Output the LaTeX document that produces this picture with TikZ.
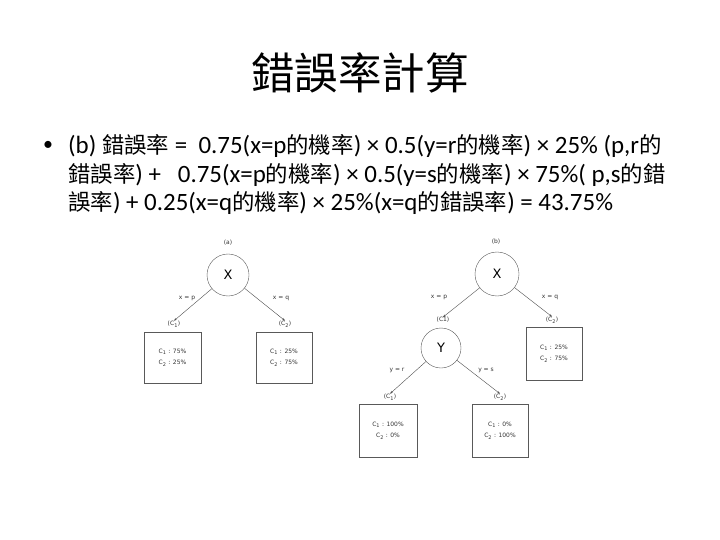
\documentclass[tikz,border=0pt]{standalone}
\usepackage{fontspec}
\setmainfont{Carlito}
\newfontfamily\cjk[Scale=0.9]{Noto Sans CJK TC}
\newfontfamily\diagfont{DejaVu Sans}
\newcommand{\zh}[1]{{\cjk #1}}
\usetikzlibrary{arrows.meta,positioning}

\begin{document}
\begin{tikzpicture}[x=1bp, y=-1bp,
 line/.style={anchor=west, inner sep=0pt, font=\fontsize{25}{28}\selectfont},
 state/.style={circle, draw=black!65, minimum size=42bp, inner sep=0pt, font=\diagfont\fontsize{13}{15}\selectfont},
 leaf/.style={rectangle, draw=black!65, minimum width=56bp, minimum height=52bp, align=center, inner sep=0pt, font=\diagfont\fontsize{6}{11}\selectfont, text=black!80},
 lbl/.style={inner sep=0pt, font=\diagfont\fontsize{6}{7}\selectfont, text=black!80},
 arr/.style={-{Stealth[length=3pt,width=2.2pt]}, draw=black!70, line width=0.4pt},
]
\useasboundingbox (0,0) rectangle (720,540);
\node (title) at (360,73) {\cjk\fontsize{48.5}{52}\selectfont 錯誤率計算};
\node (bullet) at (48,146) {\fontsize{20}{24}\selectfont \textbullet};
\node[line] (line1) at (68,146) {(b) \zh{錯誤率} = \ 0.75(x=p\zh{的機率}) × 0.5(y=r\zh{的機率}) × 25\% (p,r\zh{的}};
\node[line] (line2) at (68,175) {\zh{錯誤率}) + \ \ 0.75(x=p\zh{的機率}) × 0.5(y=s\zh{的機率}) × 75\%( p,s\zh{的錯}};
\node[line] (line3) at (68,203) {\zh{誤率}) + 0.25(x=q\zh{的機率}) × 25\%(x=q\zh{的錯誤率}) = 43.75\%};

\node[lbl] (taga) at (228,243) {(a)};
\node[state] (xa) at (228,275) {X};
\node[lbl] (xpa) at (187,298) {x = p};
\node[lbl] (xqa) at (281,298) {x = q};
\node[lbl] (ca1) at (174,324) {(C\textsubscript{1})};
\node[lbl] (ca2) at (285,324) {(C\textsubscript{2})};
\node[leaf, minimum width=57bp, minimum height=51bp] (leafa1) at (172.5,357.5) {C\textsubscript{1} : 75\%\\C\textsubscript{2} : 25\%};
\node[leaf, minimum height=51bp] (leafa2) at (284,357.5) {C\textsubscript{1} : 25\%\\C\textsubscript{2} : 75\%};
\draw[arr] (xa) -- (ca1.north);
\draw[arr] (xa) -- (ca2.north);

\node[lbl] (tagb) at (496,242) {(b)};
\node[state, minimum size=44bp] (xb) at (497,274) {X};
\node[lbl] (xpb) at (439,297) {x = p};
\node[lbl] (xqb) at (550,297) {x = q};
\node[lbl] (cb1) at (443,320) {(C1)};
\node[lbl] (cb2) at (552,320) {(C\textsubscript{2})};
\node[state, minimum size=40bp] (yb) at (441,348) {Y};
\node[leaf, minimum height=53bp] (leafb2) at (554,353.5) {C\textsubscript{1} : 25\%\\C\textsubscript{2} : 75\%};
\node[lbl] (yrb) at (397,370) {y = r};
\node[lbl] (ysb) at (486,370) {y = s};
\node[lbl] (cb3) at (390,397) {(C\textsubscript{1})};
\node[lbl] (cb4) at (500,397) {(C\textsubscript{2})};
\node[leaf, minimum width=58bp, minimum height=53bp] (leafb3) at (388,430.5) {C\textsubscript{1} : 100\%\\C\textsubscript{2} : 0\%};
\node[leaf, minimum height=53bp] (leafb4) at (500,430.5) {C\textsubscript{1} : 0\%\\C\textsubscript{2} : 100\%};
\draw[arr] (xb) -- (cb1.north);
\draw[arr] (xb) -- (cb2.north);
\draw[arr] (yb) -- (cb3.north);
\draw[arr] (yb) -- (cb4.north);
\end{tikzpicture}
\end{document}
